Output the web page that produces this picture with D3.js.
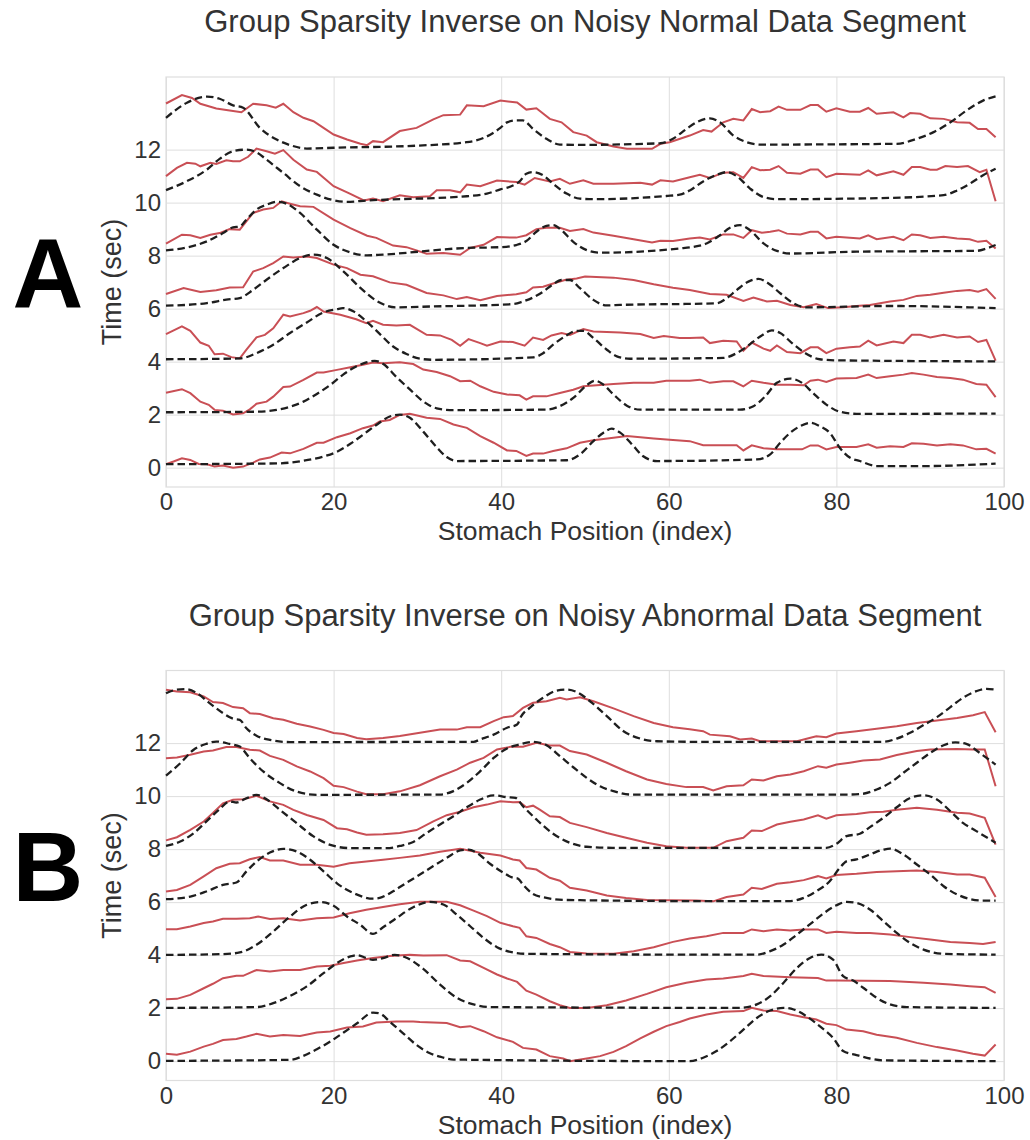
<!DOCTYPE html>
<html>
<head>
<meta charset="utf-8">
<script src="https://cdnjs.cloudflare.com/ajax/libs/d3/7.8.5/d3.min.js"></script>
<style>
  body { margin: 0; background: #fff; }
  text { font-family: "Liberation Sans", Arial, sans-serif; }
</style>
</head>
<body>
<div id="chart"></div>
<script>
var xTicks = [0, 20, 40, 60, 80, 100],
    yTicks = [0, 2, 4, 6, 8, 10, 12];

var titles = ["Group Sparsity Inverse on Noisy Normal Data Segment",
              "Group Sparsity Inverse on Noisy Abnormal Data Segment"],
    letters = ["A", "B"];

// panel A, red (solid) lines, bottom row first
var normalRed = [
  [[0,0.13],[0.9,0.23],[1.9,0.35],[2.9,0.29],[3.9,0.14],[4.9,0.13],[5.8,0.04],[6.8,0.08],[8,0],[9.2,0.04],[10.4,0.19],[11.2,0.31],[12.4,0.38],[13.8,0.57],[14.8,0.54],[16.4,0.71],[18,0.94],[18.8,0.94],[20.4,1.15],[22,1.3],[23.5,1.49],[24.7,1.59],[25.5,1.74],[26.7,1.8],[27.9,1.99],[29.1,2.03],[31.1,1.88],[32.7,1.84],[34.3,1.63],[35.9,1.5],[37.5,1.19],[39.1,0.94],[40.7,0.65],[41.8,0.63],[43,0.44],[43.8,0.53],[45,0.53],[46.2,0.63],[47.8,0.73],[49.4,0.94],[51,1.03],[53.4,1.13],[55,1.19],[58.2,1.1],[60.5,1.04],[62.5,1],[64.1,0.85],[66.5,0.85],[68.1,0.85],[68.9,0.65],[69.9,0.84],[71.3,0.73],[72.9,0.69],[74.5,0.69],[75.9,0.69],[76.9,0.84],[77.8,0.84],[78.8,0.69],[80,0.78],[82.4,0.78],[83.8,0.88],[84.8,0.75],[86.4,0.81],[88,0.78],[89,0.92],[90.4,0.9],[92,0.84],[93.6,0.88],[95.1,0.84],[96.7,0.69],[97.9,0.71],[99,0.53]],
  [[0,2.83],[1.9,2.96],[2.9,2.81],[4.1,2.49],[5.1,2.37],[5.8,2.18],[6.8,2.15],[8,2.01],[9.2,2.05],[10,2.2],[10.8,2.41],[12,2.49],[12.8,2.68],[14,3.04],[14.8,3.06],[16.4,3.31],[18,3.59],[18.8,3.59],[20.4,3.69],[22,3.79],[23.5,3.88],[24.7,3.97],[25.9,3.94],[27.9,3.98],[29.5,3.91],[30.7,3.7],[32.3,3.61],[33.9,3.45],[35.1,3.26],[36.3,3.28],[37.5,3.07],[39.1,2.86],[40.7,2.76],[42.2,2.73],[43,2.57],[43.8,2.69],[45.4,2.69],[47,2.82],[48.6,2.94],[49.8,3.07],[51.4,3.11],[53.4,3.16],[55.8,3.2],[58.2,3.2],[59.7,3.28],[62.5,3.28],[63.7,3.32],[64.9,3.2],[66.5,3.26],[67.7,3.26],[68.9,3.07],[69.9,3.28],[71.3,3.2],[72.9,3.13],[74.5,3.13],[76.1,3.11],[76.9,3.28],[77.8,3.32],[78.8,3.23],[80,3.36],[82.4,3.38],[83.8,3.51],[84.8,3.38],[86.4,3.45],[88,3.51],[89,3.57],[90.4,3.51],[92,3.42],[93.6,3.38],[95.1,3.32],[96.7,3.16],[97.9,3.13],[99,2.66]],
  [[0,5.04],[1.9,5.33],[2.9,5.16],[4.1,4.72],[5.1,4.6],[5.8,4.28],[6.8,4.3],[7.8,4.17],[8.8,4.12],[9.6,4.45],[10.8,4.92],[11.8,5.01],[12.8,5.26],[14,5.77],[14.8,5.7],[16.4,5.83],[17.2,5.92],[18,6.06],[18.8,5.89],[20.8,5.77],[22.7,5.6],[23.9,5.45],[24.7,5.54],[25.9,5.39],[27.5,5.36],[29.1,5.39],[31.1,5.01],[32.7,4.99],[34.1,4.82],[35.1,4.6],[36.1,4.85],[37.5,4.7],[38.3,4.6],[39.9,4.76],[41.4,4.74],[42.8,4.6],[43.8,4.91],[45,4.82],[46,4.99],[47.2,5.08],[48.2,5.01],[49.8,5.23],[51,5.14],[54.2,5.1],[56.6,5.04],[58.2,4.89],[59.4,4.97],[61.3,4.89],[62.5,4.89],[64.1,4.91],[64.9,4.7],[66.5,4.79],[68.1,4.76],[68.9,4.41],[69.9,4.72],[71.3,4.49],[72.1,4.41],[72.9,4.61],[74.1,4.36],[75.7,4.32],[76.9,4.54],[77.8,4.54],[78.8,4.32],[80,4.49],[81.6,4.54],[82.8,4.57],[83.8,4.79],[84.8,4.61],[86.8,4.76],[88,4.7],[89,5.01],[90,5.01],[91.2,4.91],[92.8,5.01],[94.4,4.91],[95.9,4.95],[96.9,4.74],[97.9,4.82],[99,4.04]],
  [[0,6.55],[2.1,6.78],[4.1,6.63],[6,6.69],[7.6,6.8],[9.2,6.81],[10.4,7.4],[11.6,7.53],[12.8,7.72],[14,7.97],[15.2,7.93],[16.8,7.97],[18,7.91],[20,7.66],[21.6,7.53],[23.2,7.28],[24.7,7.22],[26.7,6.99],[28.7,6.9],[31.1,6.59],[33.1,6.5],[34.7,6.36],[35.9,6.44],[37.5,6.32],[39.5,6.48],[41.8,6.54],[43,6.62],[43.8,6.8],[45,6.83],[46.2,6.95],[47.6,7.08],[49,7.14],[50,7.21],[53.4,7.17],[55.8,7.08],[58.2,6.92],[60.5,6.79],[62.5,6.7],[64.9,6.55],[66.9,6.52],[68.9,6.29],[70.1,6.42],[71.7,6.27],[72.9,6.3],[74.5,6.14],[76.1,6.05],[77.6,6.17],[79,6.02],[80.8,6.05],[82.4,6.1],[84,6.14],[86.4,6.27],[88,6.33],[89.6,6.48],[91.2,6.52],[92.8,6.6],[94.4,6.67],[95.9,6.7],[96.9,6.64],[97.9,6.74],[99,6.37]],
  [[0,8.45],[1.9,8.79],[2.9,8.77],[4.1,8.67],[5.3,8.79],[6.4,8.85],[7.6,9],[8.8,8.98],[10.4,9.61],[11.6,9.74],[12.8,9.8],[13.8,10.05],[14.8,9.96],[16,9.86],[17.6,9.84],[20,9.36],[22,9.04],[24,8.75],[25.1,8.67],[27.1,8.38],[28.7,8.32],[31.1,8.07],[33.1,8.1],[35.1,8.03],[36.3,8.29],[37.9,8.41],[39.5,8.7],[41.8,8.68],[43,8.77],[44.2,9],[45.4,9.05],[47,9.05],[48.2,8.93],[49.8,9],[51,8.87],[53.4,8.75],[55.8,8.62],[58,8.5],[59,8.56],[60.5,8.55],[62.5,8.65],[63.7,8.68],[64.9,8.61],[66.5,8.8],[67.7,8.8],[68.9,8.67],[69.9,8.96],[71.1,8.86],[72.1,8.9],[73.1,8.96],[74.1,8.83],[75.7,8.8],[76.9,8.9],[77.8,8.9],[78.8,8.65],[80,8.71],[82.8,8.65],[83.8,8.77],[84.8,8.62],[86.8,8.71],[88,8.58],[89,8.8],[90,8.77],[91.2,8.67],[92.8,8.71],[94.4,8.65],[95.9,8.62],[96.9,8.52],[97.9,8.56],[99,8.27]],
  [[0,11],[1.3,11.31],[2.5,11.5],[3.5,11.47],[4.1,11.37],[5.3,11.5],[6,11.46],[7.2,11.6],[8,11.56],[8.8,11.56],[9.8,11.73],[10.8,12.04],[12,11.94],[13,11.85],[14,11.98],[15.2,11.62],[16.8,11.25],[18,11.16],[20,10.62],[22,10.33],[23.6,10.08],[24.7,10.15],[25.9,10.05],[27.9,10.28],[29.5,10.2],[31.5,10.24],[32.3,10.47],[33.9,10.47],[35.1,10.39],[35.9,10.68],[37.5,10.62],[39.5,10.83],[41.8,10.78],[42.8,10.68],[44,10.93],[45.8,10.8],[47,10.9],[48.2,10.71],[49.8,10.84],[51,10.71],[53.4,10.71],[56.6,10.75],[58,10.68],[59,10.84],[60.5,10.8],[62.5,10.96],[63.7,11.05],[64.9,10.93],[66.5,11.13],[67.7,11.15],[68.9,10.93],[69.9,11.34],[70.9,11.22],[72.1,11.24],[73.1,11.38],[74.1,11.13],[75.7,11.09],[76.9,11.25],[77.8,11.25],[78.8,10.96],[80,11.09],[82.8,11.05],[83.8,11.22],[84.8,11.03],[86.8,11.18],[88,11.05],[89,11.34],[90,11.34],[91.2,11.24],[92,11.24],[93,11.38],[94.4,11.34],[95.7,11.38],[97.1,11.15],[97.9,11.24],[99,10.05]],
  [[0,13.74],[1.9,14.06],[3.1,13.95],[4.1,13.73],[6,13.55],[7.6,13.48],[9,13.41],[10.4,13.73],[12,13.67],[13.1,13.58],[14,13.73],[15.2,13.41],[16.4,13.2],[17.6,13.07],[18.8,12.82],[20,12.57],[21.6,12.38],[23.2,12.22],[24,12.17],[24.7,12.32],[25.9,12.28],[27.9,12.7],[29.9,12.82],[31.9,13.14],[33.1,13.3],[35.1,13.32],[35.9,13.67],[37.9,13.64],[39.9,13.85],[41.9,13.78],[43,13.51],[44.2,13.56],[45.8,13.16],[47.2,13.03],[48.6,12.66],[50.2,12.53],[51.4,12.28],[53.4,12.12],[55,12.03],[58,12.03],[59,12.22],[60.1,12.28],[62.5,12.53],[64.1,12.74],[65.1,12.68],[66.5,13.03],[67.7,13.16],[68.9,13.1],[69.9,13.53],[70.9,13.41],[72.1,13.45],[73.1,13.62],[74.1,13.5],[75.7,13.5],[76.9,13.68],[77.8,13.68],[78.8,13.43],[80,13.56],[81.6,13.43],[82.8,13.43],[83.8,13.57],[84.8,13.35],[86.8,13.41],[88,13.22],[88.8,13.38],[90,13.35],[91.2,13.18],[92.8,13.16],[94.4,13.03],[95.9,13.01],[96.9,12.78],[97.9,12.78],[99,12.47]]
];

// panel A, black dashed lines
var normalDashed = [
  [[0,0.13],[13.2,0.16],[16.4,0.26],[18.8,0.42],[20.4,0.6],[22,0.9],[23.5,1.24],[25.1,1.61],[26.7,1.93],[27.9,2],[29.1,1.88],[30.7,1.36],[32.3,0.77],[33.5,0.4],[34.7,0.25],[47.8,0.28],[49.4,0.5],[51,1],[52.2,1.32],[53.2,1.47],[54.2,1.32],[55.8,0.81],[56.9,0.44],[58.6,0.25],[70.5,0.31],[72.1,0.5],[73.3,0.94],[74.5,1.32],[75.7,1.57],[76.9,1.69],[78,1.57],[79.2,1.32],[80.4,0.75],[81.6,0.38],[82.8,0.25],[84.8,0.06],[90.4,0.06],[99,0.15]],
  [[0,2.09],[10.8,2.11],[13.2,2.18],[14.8,2.3],[16.4,2.49],[18,2.78],[19.6,3.12],[21.1,3.5],[22.7,3.82],[23.9,3.97],[24.9,4.03],[25.9,3.92],[27.5,3.42],[29.1,2.95],[30.7,2.5],[32.3,2.24],[34.3,2.17],[45.4,2.19],[47,2.32],[48.6,2.63],[50.2,3.11],[51.2,3.28],[52.2,3.13],[53.4,2.76],[55,2.34],[56.6,2.19],[68.5,2.19],[70.1,2.32],[71.5,2.69],[72.9,3.2],[74.5,3.36],[75.9,3.2],[77.2,2.82],[78.8,2.38],[80.4,2.11],[82.4,2.03],[99,2.04]],
  [[0,4.09],[8.8,4.12],[10.8,4.32],[12.8,4.64],[14.8,5.08],[16.8,5.48],[18.8,5.86],[20.4,5.98],[21.1,6.02],[22.4,5.89],[23.9,5.52],[25.5,5.05],[27.1,4.57],[28.7,4.29],[30.3,4.11],[31.9,4.07],[43.8,4.16],[45,4.32],[46.2,4.64],[47.6,4.95],[49,5.16],[49.8,5.16],[51,4.89],[52.6,4.45],[53.8,4.2],[55.4,4.11],[66.5,4.14],[68.1,4.32],[69.7,4.66],[71.1,4.99],[72.3,5.18],[73.3,5.08],[74.7,4.7],[76.3,4.32],[78,4.09],[80,4.05],[99,4.01]],
  [[0,6.11],[4.9,6.21],[7.2,6.34],[8.8,6.4],[10.4,6.71],[12,7.09],[14,7.53],[16,7.91],[17.6,8.04],[19.2,7.91],[21.2,7.4],[23.2,6.78],[25.1,6.3],[27.5,6.05],[31.5,6.08],[41.4,6.17],[42.6,6.27],[43.8,6.42],[45,6.64],[46.2,6.92],[47.2,7.08],[48.2,7.08],[49.4,6.77],[51,6.33],[52.6,6.12],[54.2,6.14],[65.7,6.2],[66.9,6.39],[68.1,6.7],[69.5,7.02],[70.7,7.12],[71.9,6.95],[73.3,6.58],[74.9,6.2],[76.4,6.05],[86.4,6.1],[99,6.02]],
  [[0,8.2],[2.5,8.31],[4.9,8.54],[6.8,8.85],[8,9.07],[8.8,9.1],[9.6,9.36],[10.8,9.74],[12,9.92],[13.2,10.03],[14.4,9.96],[16,9.61],[18,8.98],[20,8.41],[22,8.12],[24,8.01],[25.9,8.04],[35.9,8.29],[39.9,8.32],[41.8,8.4],[43,8.55],[44.2,8.9],[45.4,9.12],[46.2,9.15],[47.2,8.96],[48.6,8.52],[50.2,8.21],[51.8,8.11],[61.3,8.27],[62.9,8.33],[64.5,8.46],[66.1,8.77],[67.3,9.05],[68.5,9.15],[69.7,8.96],[71.3,8.46],[72.9,8.18],[74.5,8.08],[82.4,8.15],[96.7,8.18],[97.9,8.27],[99,8.4]],
  [[0,10.47],[2.5,10.81],[4.9,11.25],[6.4,11.65],[8,11.94],[9.6,12],[10.8,11.9],[12,11.62],[14,11.12],[16,10.62],[18,10.3],[20,10.09],[21.6,10.03],[24,10.08],[35.9,10.24],[38.3,10.34],[39.9,10.5],[41.2,10.62],[42.2,10.8],[43,11.09],[43.8,11.15],[45,11.03],[46.2,10.71],[47.8,10.34],[49.4,10.15],[51,10.13],[59.7,10.25],[61.3,10.3],[62.5,10.46],[64.1,10.8],[65.7,11.05],[66.9,11.15],[68.1,11],[69.7,10.53],[71.3,10.21],[72.9,10.13],[86.4,10.18],[92.8,10.28],[94.4,10.46],[95.9,10.71],[97.5,11.03],[99,11.28]],
  [[0,13.2],[2.5,13.77],[4.9,14],[6.4,13.92],[8,13.67],[9.2,13.58],[11.2,12.82],[13.2,12.38],[14.8,12.17],[16.8,12.04],[20,12.07],[30,12.15],[35.9,12.28],[37.9,12.44],[39.9,12.82],[40.7,13.03],[41.8,13.1],[42.6,13.1],[43.8,12.78],[45.4,12.41],[47,12.19],[49.4,12.18],[59,12.24],[60.5,12.41],[62.1,12.78],[63.5,13.06],[64.9,13.18],[66.1,13.03],[67.7,12.53],[69.3,12.28],[70.9,12.19],[87.2,12.22],[89.6,12.41],[91.6,12.66],[93.6,13.03],[95.5,13.47],[97.5,13.85],[99,14.01]]
];

// panel B, red (solid) lines
var abnormalRed = [
  [[0,0.28],[1.3,0.24],[2.9,0.36],[4.5,0.55],[5.6,0.65],[6.8,0.8],[8.4,0.84],[9.6,0.93],[10.8,1.03],[12.4,0.93],[14,0.99],[16,0.95],[18,1.08],[19.6,1.12],[21.6,1.27],[23.5,1.31],[25.1,1.46],[27.5,1.5],[29.5,1.5],[30.3,1.48],[33.5,1.44],[35.1,1.28],[36.3,1.32],[37.9,1.13],[39.5,0.9],[41.4,0.73],[42.6,0.5],[44.2,0.44],[45.8,0.19],[47.4,0.1],[48.2,0],[50.2,0.1],[51.8,0.19],[53.4,0.35],[54.9,0.57],[56.6,0.86],[58.2,1.11],[59.7,1.32],[61.3,1.48],[62.5,1.61],[64.5,1.76],[66.5,1.86],[68.9,1.89],[69.9,2.01],[71.3,1.91],[72.9,1.89],[74.5,1.76],[76.1,1.66],[77.6,1.57],[78.8,1.41],[80,1.36],[81.2,1.19],[83.2,1.13],[84.8,1],[87.2,0.88],[89.6,0.69],[92,0.53],[94.4,0.4],[96.3,0.28],[97.7,0.21],[99,0.63]],
  [[0,2.34],[1.3,2.35],[2.9,2.5],[4.5,2.75],[5.6,2.92],[6.8,3.13],[8.4,3.22],[9.2,3.22],[10.8,3.44],[12.4,3.38],[14,3.44],[16,3.44],[18,3.57],[19.6,3.6],[21.2,3.7],[22.8,3.8],[24.7,3.89],[26.7,3.97],[29.1,4.01],[30.7,3.99],[33.5,4],[35.1,3.8],[36.3,3.77],[37.9,3.52],[39.5,3.27],[40.7,3.12],[41.9,2.99],[43,2.66],[44.2,2.51],[45.8,2.26],[47,2.11],[48.2,2.01],[50.2,2.01],[52.6,2.11],[54.9,2.29],[57.4,2.54],[59.7,2.79],[62.1,2.96],[64.5,3.08],[66.5,3.12],[68.9,3.21],[69.9,3.3],[71.3,3.21],[74.5,3.17],[77.8,3.14],[78.8,3.04],[80,3.04],[86.4,3.02],[90.4,2.96],[93.6,2.89],[95.9,2.83],[97.7,2.79],[99,2.58]],
  [[0,4.98],[1.3,4.98],[2.9,5.08],[4.5,5.21],[5.6,5.27],[6.8,5.37],[8.4,5.37],[10,5.39],[11,5.46],[12.4,5.36],[14,5.39],[16,5.31],[18,5.39],[20,5.42],[21.9,5.58],[23.9,5.71],[25.9,5.82],[27.9,5.92],[30.3,6.01],[33.5,6.01],[35.1,5.88],[36.7,5.68],[38.3,5.47],[39.9,5.22],[41.4,5.09],[42.2,5.03],[43,4.71],[44.2,4.65],[45.8,4.42],[47,4.3],[48.2,4.12],[50.2,4.06],[53.4,4.05],[55.8,4.15],[58.2,4.3],[60.5,4.5],[62.5,4.63],[64.5,4.71],[66.5,4.84],[68.9,4.84],[69.9,4.97],[71.3,4.9],[72.9,4.97],[74.5,4.93],[76.1,4.97],[77.8,4.97],[78.8,4.84],[80,4.88],[82.4,4.84],[84,4.84],[86.4,4.78],[88.8,4.68],[91.2,4.59],[93.6,4.5],[95.9,4.46],[97.5,4.42],[99,4.5]],
  [[0,6.4],[1.3,6.46],[2.9,6.65],[4.5,6.97],[6,7.28],[7.6,7.45],[8.8,7.47],[10,7.62],[11.2,7.7],[12.4,7.57],[14,7.57],[16,7.41],[18,7.41],[20,7.34],[21.9,7.47],[23.9,7.53],[25.9,7.6],[27.9,7.67],[30.3,7.76],[32.7,7.9],[35.1,8.01],[37.5,7.86],[39.9,7.76],[41.4,7.61],[42.2,7.57],[43,7.29],[44.2,7.23],[45.8,6.92],[47,6.81],[48.2,6.54],[50.2,6.44],[52.6,6.25],[54.9,6.16],[57.4,6.08],[63.3,6.06],[65.3,6.03],[66.9,6.19],[68.9,6.29],[69.9,6.54],[71.1,6.5],[72.9,6.69],[74.5,6.75],[76.1,6.83],[77.8,6.98],[78.8,6.89],[80,7.02],[82.4,7.07],[84.8,7.14],[87.2,7.17],[89.6,7.19],[92,7.14],[94.4,7.04],[95.9,7.04],[97.7,6.92],[99,6.19]],
  [[0,8.33],[1.3,8.45],[2.9,8.73],[4.5,9.04],[5.6,9.36],[6.8,9.73],[8,9.86],[9.2,9.88],[10.8,10.01],[12.4,9.8],[14,9.67],[15.2,9.48],[16.8,9.29],[18.8,9.1],[20.4,8.79],[21.6,8.75],[22.8,8.63],[23.9,8.54],[25.9,8.56],[27.9,8.61],[29.9,8.72],[31.9,9.05],[33.5,9.28],[35.1,9.41],[36.7,9.58],[38.3,9.68],[39.9,9.81],[41.4,9.77],[42.2,9.78],[43,9.58],[43.8,9.64],[44.6,9.49],[45.8,9.24],[47,9.21],[48.2,8.99],[50.2,8.83],[52.6,8.61],[54.9,8.43],[57.4,8.24],[59.7,8.11],[62.1,8.05],[65.3,8.05],[66.9,8.3],[68.9,8.43],[69.9,8.7],[71.1,8.68],[72.9,8.93],[74.5,9.03],[76.1,9.12],[77.8,9.28],[78.8,9.15],[80,9.28],[82.4,9.33],[84,9.39],[85.6,9.41],[87.2,9.49],[89.6,9.56],[92,9.49],[94.4,9.37],[95.9,9.34],[97.7,9.18],[99,8.17]],
  [[0,11.43],[1.3,11.46],[2.9,11.56],[4.5,11.68],[5.6,11.72],[7.2,11.85],[8.4,11.85],[10,11.75],[11.2,11.72],[12.4,11.52],[14,11.37],[15.6,11.12],[17.2,10.93],[18.8,10.68],[20,10.39],[21.2,10.34],[22.8,10.17],[23.9,10.07],[25.9,10.07],[27.9,10.18],[30.3,10.41],[32.7,10.75],[34.7,11],[36.3,11.26],[37.9,11.44],[39.5,11.76],[41.1,11.86],[42.6,11.86],[44.2,12.01],[45.8,11.91],[47,11.91],[48.2,11.7],[50.2,11.57],[52.6,11.26],[54.9,10.94],[57.4,10.63],[59.7,10.46],[62.1,10.34],[64.1,10.34],[65.3,10.21],[66.9,10.37],[68.9,10.41],[69.9,10.63],[71.3,10.59],[72.9,10.75],[74.5,10.82],[76.1,10.94],[77.8,11.13],[78.8,11.07],[80,11.19],[81.6,11.26],[83.2,11.34],[85.2,11.38],[87.2,11.55],[89.6,11.7],[91.2,11.76],[94.4,11.78],[96.3,11.76],[97.7,11.76],[99,10.37]],
  [[0,14.01],[1.3,13.95],[2.9,13.92],[4.5,13.76],[5.6,13.55],[6.8,13.51],[8,13.36],[9.2,13.32],[10,13.13],[11.2,13.1],[12.8,12.94],[14,12.88],[15.6,12.73],[17.2,12.63],[18.8,12.5],[20,12.38],[21.2,12.34],[22.8,12.19],[23.9,12.15],[25.9,12.19],[27.9,12.27],[30.3,12.39],[32.7,12.51],[34.7,12.51],[35.9,12.6],[37.5,12.6],[39.1,12.83],[40.3,12.98],[41.4,13.02],[42.6,13.33],[43.8,13.52],[45.4,13.58],[47,13.71],[47.8,13.65],[49.4,13.73],[51,13.58],[53.4,13.31],[55.8,13.02],[58.2,12.76],[60.5,12.6],[62.5,12.52],[64.1,12.45],[64.9,12.32],[67.3,12.26],[68.5,12.14],[69.9,12.17],[70.9,12.07],[72.5,12.07],[75.3,12.07],[76.9,12.2],[77.6,12.26],[78.8,12.22],[80,12.36],[82.4,12.45],[84.8,12.54],[87.2,12.64],[89.6,12.76],[92,12.85],[94.4,12.95],[96.3,13.05],[97.7,13.17],[99,12.41]]
];

// panel B, black dashed lines
var abnormalDashed = [
  [[0,0.01],[14.8,0.05],[16.4,0.2],[18,0.45],[19.6,0.74],[21.2,1.08],[22.8,1.43],[24.7,1.83],[25.5,1.8],[26.7,1.49],[28.3,1.05],[29.9,0.61],[31.5,0.3],[32.7,0.17],[34.3,0.06],[62.5,0],[64.1,0.13],[65.7,0.38],[67.3,0.75],[68.9,1.19],[70.5,1.63],[72.1,1.91],[73.7,2.01],[74.9,1.95],[76.4,1.7],[78,1.32],[79.6,0.88],[80.8,0.38],[82.4,0.23],[84,0.1],[85.6,0.03],[99,0]],
  [[0,2.01],[10.8,2.04],[12.8,2.19],[14.8,2.46],[16.8,2.82],[18.8,3.32],[20.4,3.7],[22,3.95],[22.8,4],[23.9,3.89],[24.7,3.82],[25.9,3.89],[27.3,4.01],[28.7,3.9],[30.7,3.48],[32.7,2.89],[34.7,2.39],[36.7,2.14],[38.7,2.04],[68.5,2.01],[70.5,2.14],[72.1,2.45],[73.7,2.96],[75.3,3.52],[76.9,3.9],[78.2,4.02],[79.6,3.83],[80.8,3.21],[82,3.04],[83.2,2.77],[84.8,2.39],[86.4,2.14],[88.4,2.04],[99,2.01]],
  [[0,4.01],[6.8,4.04],[8.8,4.1],[10.8,4.39],[12.8,4.89],[14.8,5.46],[16.8,5.9],[18.4,6],[20,5.86],[21.6,5.46],[23.2,5.14],[24.7,4.8],[25.9,5.05],[27.5,5.4],[29.5,5.81],[31.5,6.01],[33.1,5.91],[34.7,5.53],[36.3,5.09],[37.9,4.65],[39.5,4.3],[41.1,4.12],[43,4.05],[63.3,4.02],[70.5,4.02],[72.1,4.15],[73.7,4.4],[75.3,4.78],[76.9,5.18],[78.4,5.56],[80,5.88],[81.2,6.01],[82.4,5.97],[84,5.72],[85.6,5.28],[87.2,4.84],[88.8,4.46],[90.4,4.21],[92.8,4.05],[99,4.02]],
  [[0,6.11],[2.9,6.21],[4.8,6.4],[6.8,6.65],[8.4,6.74],[9.6,7.16],[10.8,7.53],[12.4,7.87],[14,8.01],[15.6,7.91],[17.2,7.6],[18.8,7.16],[20.4,6.71],[22.4,6.34],[24.7,6.13],[25.5,6.16],[27.1,6.41],[28.7,6.73],[30.3,7.04],[31.9,7.36],[33.5,7.67],[35.1,7.95],[36.1,7.98],[37.1,7.86],[38.7,7.44],[40.3,7.1],[41.4,6.92],[42,6.89],[42.6,6.66],[43.8,6.31],[45.4,6.16],[47.8,6.08],[63.3,6.04],[74.5,6.04],[76.1,6.16],[77.6,6.41],[79.2,6.79],[80.4,7.29],[81.2,7.54],[82.4,7.61],[84,7.8],[85.6,7.98],[86.4,8.02],[88,7.8],[89.6,7.42],[91.2,7.04],[92.8,6.6],[94.4,6.29],[95.9,6.12],[97.5,6.06],[99,6.06]],
  [[0,8.12],[1.7,8.29],[3.3,8.6],[4.8,9.04],[6.4,9.51],[7.6,9.8],[8.4,9.76],[9.6,9.92],[10.8,10.05],[12,9.88],[13.6,9.48],[15.6,8.98],[17.6,8.48],[19.6,8.16],[21.9,8.04],[26.7,8.04],[27.9,8.12],[29.5,8.27],[31.1,8.61],[32.7,8.93],[34.3,9.24],[35.9,9.58],[37.5,9.87],[39.1,10.03],[40.7,9.96],[41.7,9.93],[42.6,9.62],[44.2,9.12],[46.2,8.58],[48.2,8.24],[50.2,8.09],[53.4,8.05],[78.8,8.05],[80,8.2],[81.2,8.49],[82.8,8.58],[84,8.83],[85.6,9.18],[87.2,9.58],[88.8,9.93],[90.4,10.03],[92,9.87],[93.6,9.43],[95.1,8.99],[96.7,8.68],[99,8.24]],
  [[0,10.77],[1.7,11.24],[3.3,11.75],[4.8,11.97],[6,12.06],[7.6,11.97],[8.8,11.87],[10,11.43],[11.6,10.93],[13.6,10.49],[15.6,10.17],[18,10.05],[32.7,10.06],[34.3,10.19],[35.9,10.5],[37.5,10.94],[39.1,11.44],[40.7,11.8],[42.2,11.95],[43.8,12.05],[45.4,11.92],[47,11.51],[48.6,11.09],[50.2,10.69],[51.8,10.37],[53.4,10.19],[55.4,10.06],[81.6,10.06],[83.2,10.09],[84.8,10.25],[86.4,10.5],[88,10.88],[89.6,11.26],[91.2,11.63],[92.8,11.92],[94.2,12.03],[95.5,11.97],[97.1,11.63],[99,11.19]],
  [[0,13.88],[0.9,13.99],[2.3,14.04],[3.7,13.88],[5.2,13.51],[6.8,13.13],[8,12.92],[8.8,12.88],[9.6,12.56],[10.8,12.28],[12.4,12.12],[14.8,12.04],[36.7,12.05],[37.5,12.14],[39.1,12.32],[40.7,12.58],[41.9,12.7],[42.4,13.02],[43.4,13.33],[45,13.71],[46.6,13.98],[47.8,14.02],[49,13.93],[50.6,13.58],[52.6,13.02],[54.6,12.45],[56.6,12.17],[58.6,12.07],[63.3,12.05],[85.6,12.05],[87.2,12.17],[88.8,12.39],[90.4,12.68],[92,12.98],[93.6,13.36],[95.1,13.71],[96.7,13.96],[97.9,14.05],[99,14.02]]
];

var
  margin = {left: 166, right: 26},
  width = 1030 - margin.left - margin.right,
  height = 410,
  panelTops = [77, 670.5];

var svg = d3.select("#chart")
  .append("svg")
  .attr("width", 1030)
  .attr("height", 1140);

var x = d3.scaleLinear().domain([0, 100]).range([0, width]);
var y = d3.scaleLinear().domain([-0.73, 14.74]).range([height, 0]);

var redLine = d3.line()
  .x(function(d) { return x(d[0]); })
  .y(function(d) { return y(d[1]); });

var dashLine = d3.line()
  .curve(d3.curveMonotoneX)
  .x(function(d) { return x(d[0]); })
  .y(function(d) { return y(d[1]); });

var panels = [
  {red: normalRed, dashed: normalDashed},
  {red: abnormalRed, dashed: abnormalDashed}
];

panels.forEach(function(p, i) {
  var top = panelTops[i];
  var g = svg.append("g")
    .attr("transform", "translate(" + margin.left + "," + top + ")");

  // grid + tick labels
  g.append("g")
    .attr("class", "axis axis--x")
    .attr("transform", "translate(0," + height + ")")
    .call(d3.axisBottom(x).tickValues(xTicks).tickSize(-height).tickPadding(6))
    .call(function(a) { a.select(".domain").remove(); });

  g.append("g")
    .attr("class", "axis axis--y")
    .call(d3.axisLeft(y).tickValues(yTicks).tickSize(-width).tickPadding(5))
    .call(function(a) { a.select(".domain").remove(); });

  g.selectAll(".tick line")
    .attr("stroke", "#dedede")
    .attr("stroke-width", 1);

  g.selectAll(".tick text")
    .attr("fill", "#333")
    .style("font-size", "24px")
    .style("font-family", "'Liberation Sans', Arial, sans-serif");

  g.append("rect")
    .attr("width", width)
    .attr("height", height)
    .attr("fill", "none")
    .attr("stroke", "#dedede")
    .attr("stroke-width", 1.2);

  g.selectAll(".red")
    .data(p.red)
    .enter().append("path")
      .attr("class", "red")
      .attr("d", redLine)
      .attr("fill", "none")
      .attr("stroke", "#c94f55")
      .attr("stroke-width", 2);

  g.selectAll(".dashed")
    .data(p.dashed)
    .enter().append("path")
      .attr("class", "dashed")
      .attr("d", dashLine)
      .attr("fill", "none")
      .attr("stroke", "#1e1e1e")
      .attr("stroke-width", 2.3)
      .attr("stroke-dasharray", "7.5,4");

  // titles and labels
  svg.append("text")
    .attr("x", margin.left + width / 2)
    .attr("y", top - 45)
    .attr("text-anchor", "middle")
    .attr("fill", "#333")
    .style("font-size", "31px")
    .text(titles[i]);

  svg.append("text")
    .attr("x", margin.left + width / 2)
    .attr("y", top + height + 53)
    .attr("text-anchor", "middle")
    .attr("fill", "#333")
    .style("font-size", "26.5px")
    .text("Stomach Position (index)");

  svg.append("text")
    .attr("transform", "translate(121," + (top + height / 2) + ") rotate(-90)")
    .attr("text-anchor", "middle")
    .attr("fill", "#333")
    .style("font-size", "27px")
    .text("Time (sec)");

  svg.append("text")
    .attr("x", 48)
    .attr("y", top + 230)
    .attr("text-anchor", "middle")
    .attr("fill", "#000")
    .style("font-size", "98px")
    .style("font-weight", "bold")
    .text(letters[i]);
});
</script>
</body>
</html>
